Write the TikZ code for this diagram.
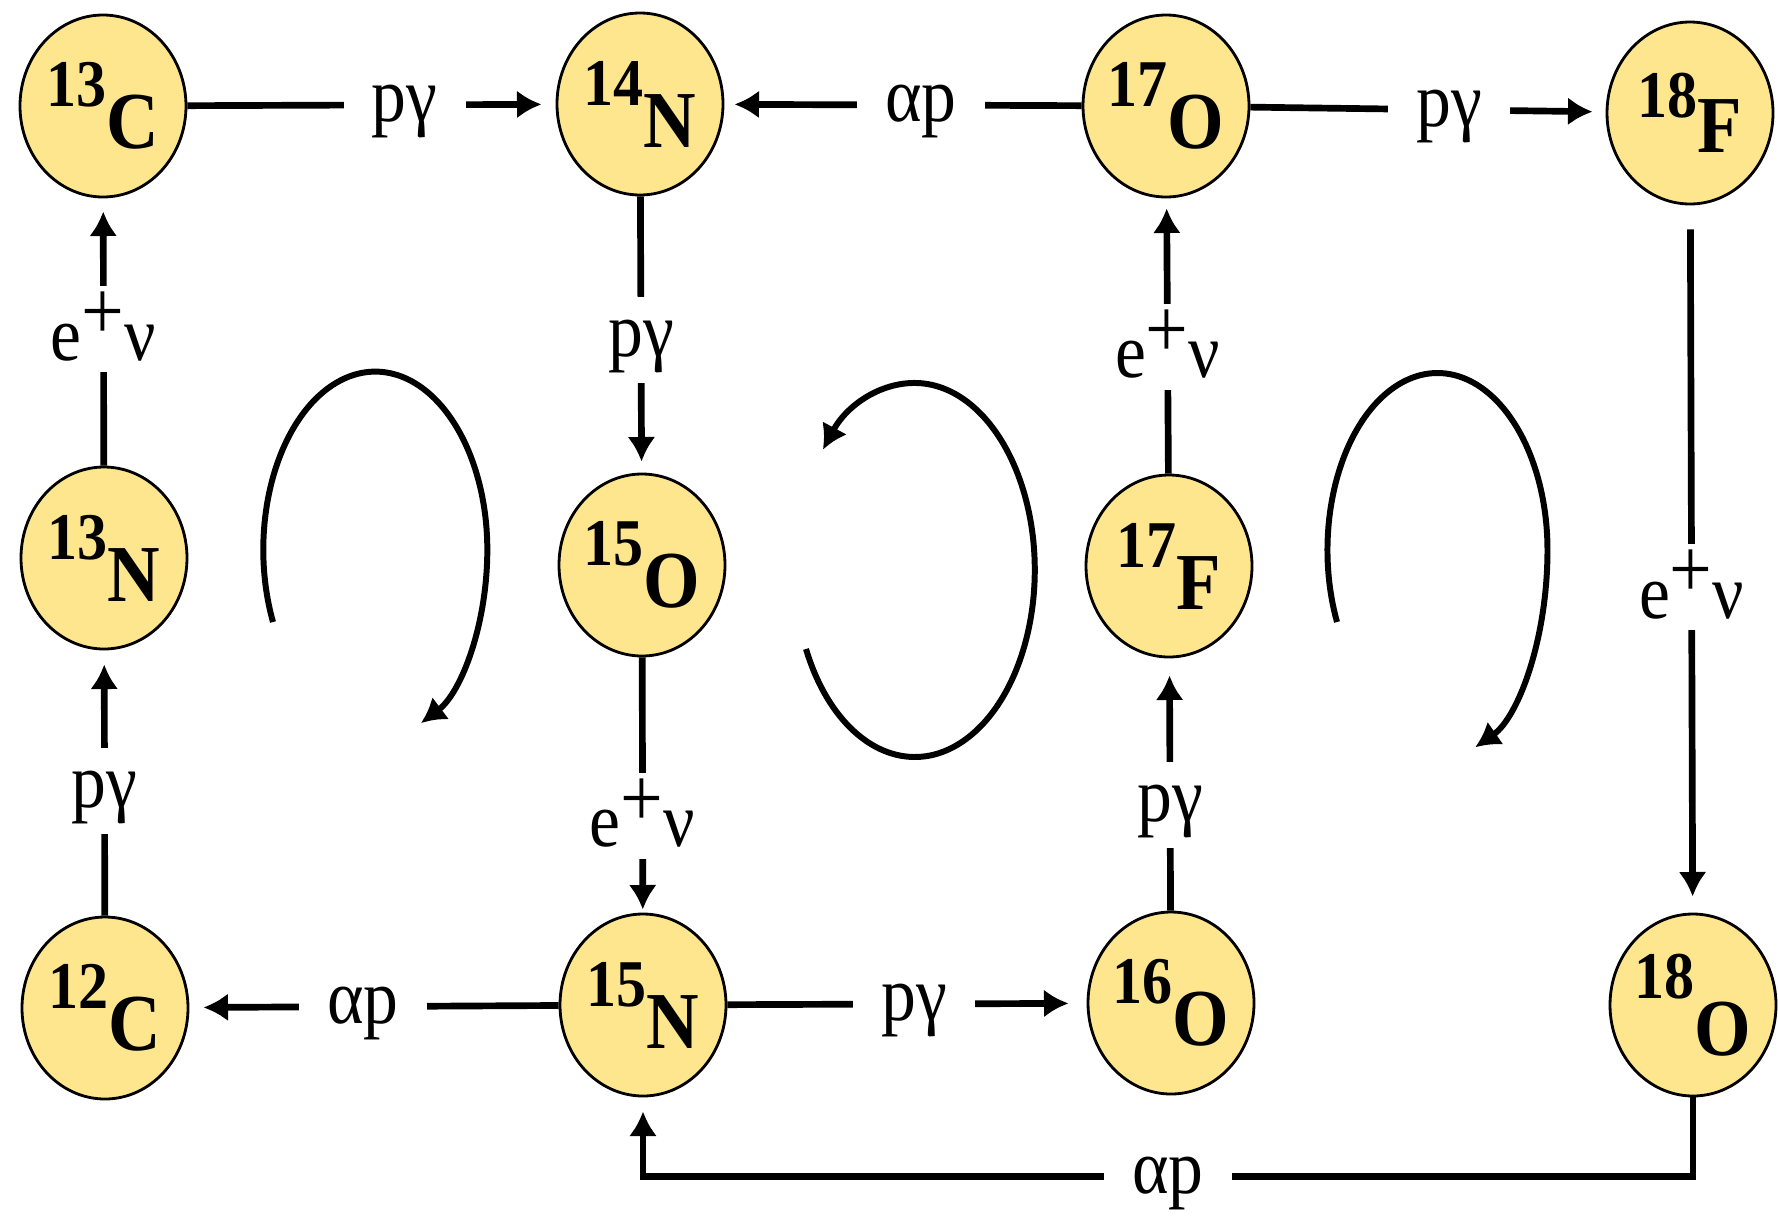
\documentclass[tikz,border=0pt]{standalone}
\usepackage{fontspec}
\setmainfont[FakeStretch=0.9]{Liberation Serif}
\usepackage{xcolor}
\usetikzlibrary{arrows.meta}
\usetikzlibrary{shapes.geometric}

\definecolor{nucfill}{RGB}{254,230,142}

% mass number raised over the element symbol
\newcommand{\iso}[3][0.42cm]{\textbf{\raisebox{#1}{\fontsize{19}{19}\selectfont #2}#3}}
\newcommand{\betadecay}{e\raisebox{0.26em}{\fontsize{24}{24}\selectfont +}ν}

\tikzset{
    nucleus/.style={ellipse,draw=black,line width=0.8pt,fill=nucfill,
        minimum width=1.66cm,minimum height=1.82cm,inner sep=0pt,
        font=\fontsize{23}{23}\selectfont},
    flow/.style={line width=1.9pt,-{Latex[length=7pt,width=8pt]}},
    react/.style={fill=white,inner xsep=8pt,inner ysep=1pt,
        text height=16pt,text depth=6.5pt,font=\fontsize{22}{22}\selectfont},
    decay/.style={react,text height=20pt,text depth=2.5pt},
    cyclearrow/.style={line width=1.7pt,-{Latex[length=7pt,width=8pt]}}
}

\begin{document}
\begin{tikzpicture}
    \useasboundingbox (0,0) rectangle (17.78,-12.15);
    % nuclei
    \node[nucleus] (c13) at (1.03,-1.06) {\iso{13}{C}};
    \node[nucleus] (n14) at (6.40,-1.04) {\iso{14}{N}};
    \node[nucleus] (o17) at (11.66,-1.06) {\iso{17}{O}};
    \node[nucleus] (f18) at (16.90,-1.13) {\iso[0.35cm]{18}{F}};
    \node[nucleus] (n13) at (1.04,-5.58) {\iso{13}{N}};
    \node[nucleus] (o15) at (6.42,-5.65) {\iso{15}{O}};
    \node[nucleus] (f17) at (11.69,-5.66) {\iso{17}{F}};
    \node[nucleus] (c12) at (1.05,-10.08) {\iso{12}{C}};
    \node[nucleus] (n15) at (6.43,-10.05) {\iso{15}{N}};
    \node[nucleus] (o16) at (11.71,-10.03) {\iso{16}{O}};
    \node[nucleus] (o18) at (16.93,-10.05) {\iso[0.57cm]{18}{O}};

    % reactions
    \draw[flow,shorten >=0.14cm] (c13) -- node[react,pos=0.59] {pγ} (n14);
    \draw[flow,shorten >=0.10cm] (o17) -- node[react,pos=0.45] {αp} (n14);
    \draw[flow,shorten >=0.13cm] (o17) -- node[react,pos=0.56] {pγ} (f18);
    \draw[flow,shorten >=0.11cm] (n14) -- node[react,pos=0.52] {pγ} (o15);
    \draw[flow,shorten >=0.03cm] (o15) -- node[decay,pos=0.62] {\betadecay} (n15);
    \draw[flow,shorten >=0.14cm] (n15) -- node[react,pos=0.53] {αp} (c12);
    \draw[flow,shorten >=0.18cm] (n15) -- node[react,pos=0.52] {pγ} (o16);
    \draw[flow,shorten >=0.17cm] (o16) -- node[react,pos=0.42] {pγ} (f17);
    \draw[flow,shorten >=0.10cm] (f17) -- node[decay,pos=0.46] {\betadecay} (o17);
    \draw[flow,shorten >=0.13cm] (n13) -- node[decay,pos=0.51] {\betadecay} (c13);
    \draw[flow,shorten >=0.14cm] (c12) -- node[react,pos=0.47] {pγ} (n13);
    \draw[flow,shorten <=0.24cm,shorten >=0.16cm] (f18) -- node[decay,pos=0.54] {\betadecay} (o18);
    \draw[flow,shorten >=0.14cm] (o18.south) -- ++(0,-0.79) -| node[react,pos=0.25] {αp} (n15);

    % cycle arrows
    \draw[cyclearrow] (2.73,-6.22) arc[start angle=204,end angle=0,x radius=1.12cm,y radius=1.78cm]
        arc[start angle=0,end angle=-66,x radius=1.12cm,y radius=1.90cm];
    \draw[cyclearrow] (8.06,-6.49) arc[start angle=205,end angle=500,x radius=1.20cm,y radius=1.87cm];
    \draw[cyclearrow] (13.37,-6.22) arc[start angle=204,end angle=0,x radius=1.10cm,y radius=1.77cm]
        arc[start angle=0,end angle=-70,x radius=1.10cm,y radius=2.10cm];
\end{tikzpicture}
\end{document}
